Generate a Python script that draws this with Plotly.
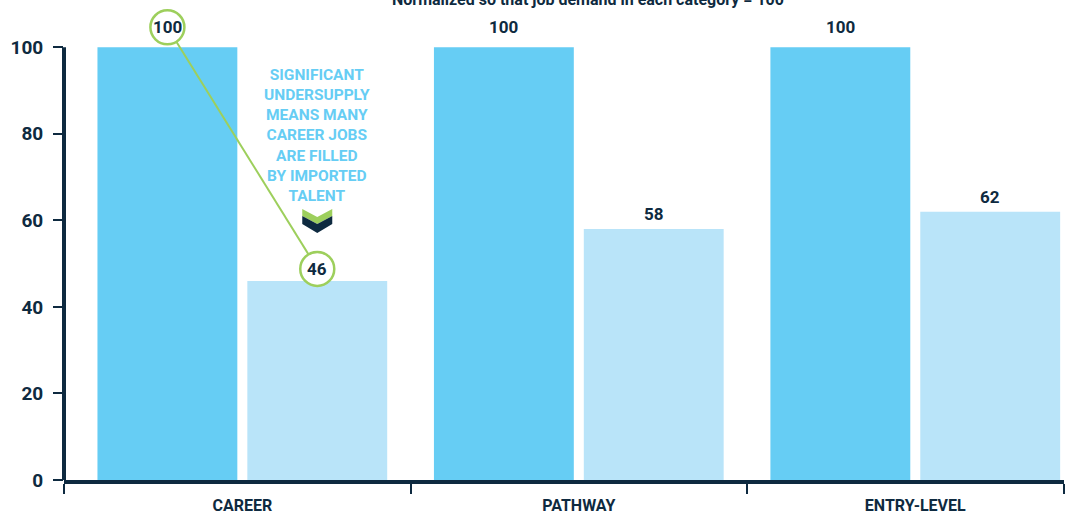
import plotly.graph_objects as go

categories = ["CAREER", "PATHWAY", "ENTRY-LEVEL"]
demand = [100, 100, 100]
supply = [46, 58, 62]
y_ticks = [0, 20, 40, 60, 80, 100]
note_lines = ["SIGNIFICANT", "UNDERSUPPLY", "MEANS MANY", "CAREER JOBS",
              "ARE FILLED", "BY IMPORTED", "TALENT"]
subtitle = "Normalized so that job demand in each category = 100"

NAVY = "#0e2a40"
BLUE = "#66cdf4"
LIGHT = "#b9e4f9"
GREEN = "#9dcf5c"
FONT = "Roboto"

xs = list(range(len(categories)))
bar_w = 0.4157
gap = 0.0297
off_a = -(bar_w + gap / 2)
off_b = gap / 2
ca = -(gap / 2 + bar_w / 2)   # center offset of first bar
cb = gap / 2 + bar_w / 2      # center offset of second bar

fig = go.Figure()
fig.add_trace(go.Bar(x=xs, y=demand, width=bar_w, offset=off_a,
                     marker=dict(color=BLUE, line=dict(width=0)),
                     name="Demand", hoverinfo="skip"))
fig.add_trace(go.Bar(x=xs, y=supply, width=bar_w, offset=off_b,
                     marker=dict(color=LIGHT, line=dict(width=0)),
                     name="Supply", hoverinfo="skip"))

annotations = []
for i, (d, s) in enumerate(zip(demand, supply)):
    annotations.append(dict(x=xs[i] + ca, y=d, xref="x", yref="y", text=str(d),
                            showarrow=False, yshift=20,
                            font=dict(family=FONT, size=17, color=NAVY, weight="bold")))
    annotations.append(dict(x=xs[i] + cb, y=s, xref="x", yref="y", text=str(s),
                            showarrow=False, yshift=15 if i else 12,
                            font=dict(family=FONT, size=17, color=NAVY, weight="bold")))

annotations.append(dict(x=xs[0] + cb, y=79.6, xref="x", yref="y",
                        text="<br>".join(note_lines), showarrow=False, align="center",
                        font=dict(family=FONT, size=15.5, color=BLUE, weight="bold")))
annotations.append(dict(x=0.524, y=1, xref="paper", yref="paper", text=subtitle,
                        showarrow=False, yanchor="middle", yshift=5,
                        font=dict(family=FONT, size=16, color=NAVY, weight="bold")))

shapes = []
# y axis line drawn only over the 0-100 span
shapes.append(dict(type="line", xref="paper", yref="y", x0=0, x1=0,
                   y0=y_ticks[0], y1=y_ticks[-1], line=dict(color=NAVY, width=4),
                   layer="above"))
# connector line between the two highlighted labels (pixel offsets from 1st circle)
shapes.append(dict(type="path", xref="x", yref="y", xsizemode="pixel", ysizemode="pixel",
                   xanchor=xs[0] + ca, yanchor=demand[0],
                   path="M 9,5.6 L 142,-208.6", line=dict(color=GREEN, width=2), layer="above"))
shapes.append(dict(type="circle", xref="x", yref="y", xsizemode="pixel", ysizemode="pixel",
                   xanchor=xs[0] + ca, yanchor=demand[0], x0=-17, x1=17, y0=3, y1=37,
                   fillcolor="white", line=dict(color=GREEN, width=2.5), layer="above"))
shapes.append(dict(type="circle", xref="x", yref="y", xsizemode="pixel", ysizemode="pixel",
                   xanchor=xs[0] + cb, yanchor=supply[0], x0=-17, x1=17, y0=-5, y1=29,
                   fillcolor="white", line=dict(color=GREEN, width=2.5), layer="above"))
# chevron
shapes.append(dict(type="path", xref="x", yref="y", xsizemode="pixel", ysizemode="pixel",
                   xanchor=xs[0] + cb, yanchor=supply[0],
                   path="M -15,72 L 0,64 L 15,72 L 15,65 L 0,57 L -15,65 Z",
                   fillcolor=GREEN, line=dict(width=0), layer="above"))
shapes.append(dict(type="path", xref="x", yref="y", xsizemode="pixel", ysizemode="pixel",
                   xanchor=xs[0] + cb, yanchor=supply[0],
                   path="M -15,65 L 0,57 L 15,65 L 15,57 L 0,48 L -15,57 Z",
                   fillcolor=NAVY, line=dict(width=0), layer="above"))

x_range = [-0.53, 2.442]
boundaries = [x_range[0]] + [i + 0.5 for i in xs[:-1]] + [x_range[1]]

fig.update_layout(
    width=1066, height=516,
    margin=dict(l=64, r=2, t=4, b=36),
    paper_bgcolor="white", plot_bgcolor="white",
    barmode="overlay", showlegend=False,
    annotations=annotations, shapes=shapes,
    font=dict(family=FONT, color=NAVY),
    xaxis=dict(range=x_range, tickmode="array", tickvals=xs, ticktext=categories,
               automargin=False,
               showgrid=False, zeroline=False, showline=True, linecolor=NAVY, linewidth=4,
               ticks="outside", ticklen=8, tickcolor="rgba(0,0,0,0)",
               tickfont=dict(family=FONT, size=16, color=NAVY, weight="bold"),
               minor=dict(tickmode="array", tickvals=boundaries, ticks="outside",
                          ticklen=10, tickwidth=2, tickcolor=NAVY, showgrid=False),
               fixedrange=True),
    yaxis=dict(range=[0, 110], tickmode="array", tickvals=y_ticks,
               automargin=False,
               showgrid=False, zeroline=False, showline=False,
               ticks="outside", ticklen=10, tickwidth=2, tickcolor=NAVY,
               ticklabelstandoff=6,
               tickfont=dict(family=FONT, size=19, color=NAVY, weight="bold"),
               fixedrange=True),
)

fig.write_html("out.html", config={"displayModeBar": False},
               post_script="document.body.style.margin='0';document.body.style.overflow='hidden';")
